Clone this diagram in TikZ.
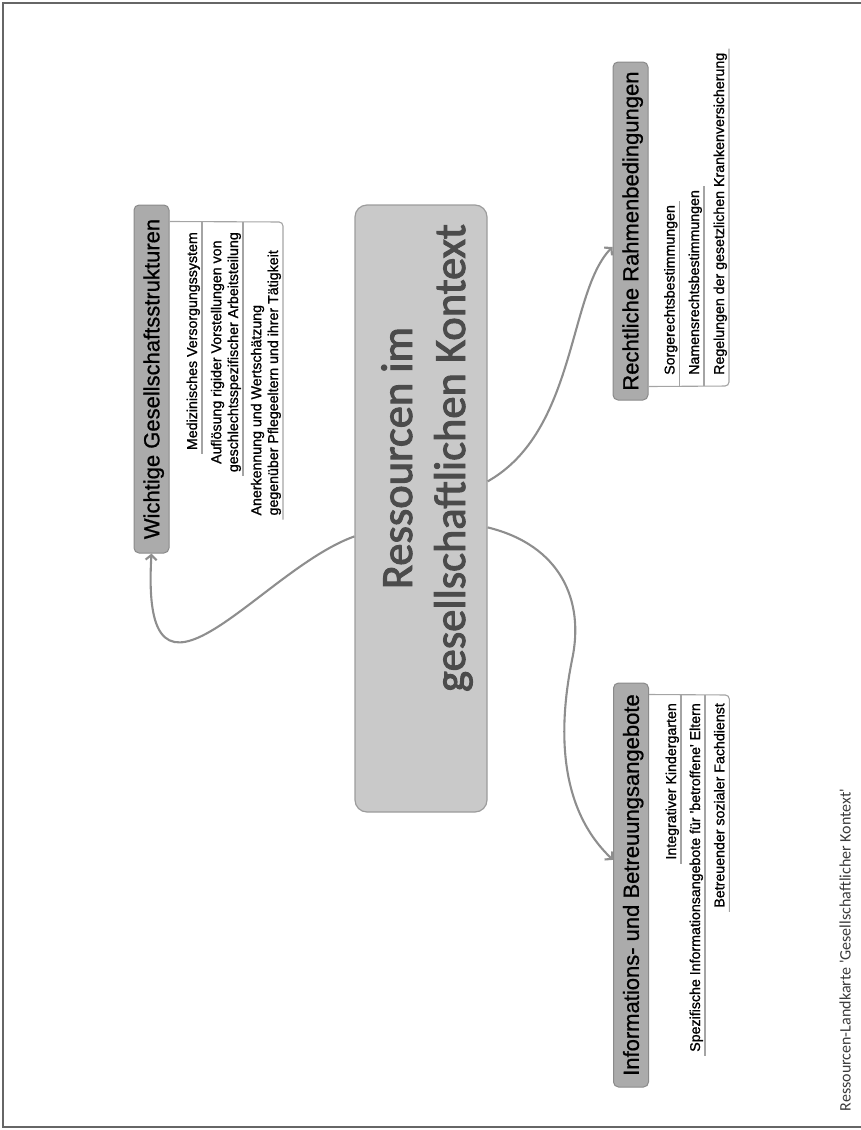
\documentclass[tikz,border=0pt]{standalone}
\usepackage{fontspec}
\setmainfont{Liberation Sans}[FakeBold=1.1]
\newfontfamily\titlefont{Carlito}[FakeBold=2.2]
\newfontfamily\captionfont{Carlito}
\newfontfamily\topicfont{Liberation Sans}[FakeBold=0.8]
\usetikzlibrary{arrows.meta,calc}

\definecolor{framegray}{HTML}{666666}
\definecolor{linkgray}{HTML}{8E8E8E}
\definecolor{centerfill}{HTML}{C9C9C9}
\definecolor{centerdraw}{HTML}{9C9C9C}
\definecolor{topicfill}{HTML}{ABABAB}
\definecolor{topicdraw}{HTML}{8A8A8A}
\definecolor{titletext}{HTML}{4B4B4B}
\definecolor{subline}{HTML}{A4A4A4}
\definecolor{captiontext}{HTML}{3A3A3A}

% two-line subtopic text, aligned on the baseline of its last line
\newcommand\subtwo[3][c]{\begin{tabular}[b]{@{}#1@{}}#2\\#3\end{tabular}}

\begin{document}
\begin{tikzpicture}[x=1pt,y=-1pt,
  pageframe/.style={draw=framegray, line width=2pt},
  centerbox/.style={draw=centerdraw, fill=centerfill, line width=1.2pt,
    rounded corners=12pt, minimum width=132pt, minimum height=607pt, inner sep=0pt},
  centertitle/.style={rotate=90, inner sep=0pt, text=titletext,
    font=\titlefont\fontsize{44.5}{53}\selectfont},
  topic/.style={rotate=90, draw=topicdraw, fill=topicfill, line width=1pt,
    rounded corners=5pt, minimum height=35pt, inner sep=0pt,
    text height=15.8pt, text depth=0pt, font=\topicfont\fontsize{22}{26}\selectfont},
  subtopic/.style={rotate=90, inner sep=0pt, font=\fontsize{14.2}{16.8}\selectfont},
  link/.style={draw=linkgray, line width=2.1pt,
    -{Straight Barb[length=5pt,width=11pt]}},
  spine/.style={draw=subline, line width=1.1pt, rounded corners=4pt},
  caption/.style={rotate=90, inner sep=0pt, text=captiontext,
    font=\captionfont\fontsize{16}{19}\selectfont},
]
\useasboundingbox (0,0) rectangle (861,1130);

% page frame
\draw[pageframe] (861,3) -- (3,3) -- (3,1127) -- (861,1127);

% central topic
\node[centerbox] (c) at (421,508.5) {};
\node[centertitle, anchor=base] (ct) at ($(c.center)+(44,-50.5)$)
  {\begin{tabular}[b]{@{}c@{}}Ressourcen im\\gesellschaftlichen Kontext\end{tabular}};

% main topics
\node[topic, minimum width=348pt] (w) at (151.5,379) {Wichtige Gesellschaftsstrukturen};
\node[topic, minimum width=338pt] (r) at (630.5,231) {Rechtliche Rahmenbedingungen};
\node[topic, minimum width=404pt] (i) at (631,885) {Informations- und Betreuungsangebote};

% connectors from the central topic
\draw[link] ($(c.north west)+(0,332)$) .. controls (260,570) and (140,745) .. (w.west);
\draw[link] ($(c.north east)+(0,277)$) .. controls (577,431) and (568,292)
  .. ($(r.north west)!0.453!(r.north east)$);
\draw[link] ($(c.north east)+(0,323)$) .. controls (560,545) and (585,600) .. (572,660)
  .. controls (560,720) and (555,805) .. ($(i.north west)!0.562!(i.north east)$);

% subtopics: Wichtige Gesellschaftsstrukturen
\node[subtopic, anchor=base east] (w1) at (197,232) {Medizinisches Versorgungssystem};
\node[subtopic, anchor=base east] (w2) at (238,232)
  {\subtwo{Auflösung rigider Vorstellungen von}{geschlechtsspezifischer Arbeitsteilung}};
\node[subtopic, anchor=base east] (w3) at (278,250)
  {\subtwo[l]{Anerkennung und Wertschätzung}{gegenüber Pflegeeltern und ihrer Tätigkeit}};
\coordinate (w1s) at (202,222);
\coordinate (w2s) at (243,222);
\coordinate (w3s) at (283,222);
\draw[spine] ($(w.south east)+(0,17)$) -- (w3s) -- ($(w3.base west)+(5,4)$);
\draw[spine] (w1s) -- ($(w1.base west)+(5,4)$);
\draw[spine] (w2s) -- ($(w2.base west)+(5,4)$);

% subtopics: Rechtliche Rahmenbedingungen
\node[subtopic, anchor=base west] (r1) at (674.5,375) {Sorgerechtsbestimmungen};
\node[subtopic, anchor=base west] (r2) at (699,375) {Namensrechtsbestimmungen};
\node[subtopic, anchor=base west] (r3) at (724,375) {Regelungen der gesetzlichen Krankenversicherung};
\coordinate (r1s) at (679.5,386);
\coordinate (r2s) at (704,386);
\coordinate (r3s) at (729,386);
\draw[spine] ($(r.south west)+(0,-14)$) -- (r3s) -- ($(r3.base east)+(5,-4)$);
\draw[spine] (r1s) -- ($(r1.base east)+(5,-4)$);
\draw[spine] (r2s) -- ($(r2.base east)+(5,-4)$);

% subtopics: Informations- und Betreuungsangebote
\node[subtopic, anchor=base east] (i1) at (676,703) {Integrativer Kindergarten};
\node[subtopic, anchor=base east] (i2) at (700,703)
  {Spezifische Informationsangebote für \textquotesingle betroffene\textquotesingle\ Eltern};
\node[subtopic, anchor=base east] (i3) at (724.3,703) {Betreuender sozialer Fachdienst};
\coordinate (i1s) at (681,695);
\coordinate (i2s) at (705,695);
\coordinate (i3s) at (729.3,695);
\draw[spine] ($(i.south east)+(0,12)$) -- (i3s) -- ($(i3.base west)+(5,4)$);
\draw[spine] (i1s) -- ($(i1.base west)+(5,4)$);
\draw[spine] (i2s) -- ($(i2.base west)+(5,4)$);

% caption
\node[caption] (cap) at (845,950)
  {Ressourcen-Landkarte \textquotesingle Gesellschaftlicher Kontext\textquotesingle};
\end{tikzpicture}
\end{document}
